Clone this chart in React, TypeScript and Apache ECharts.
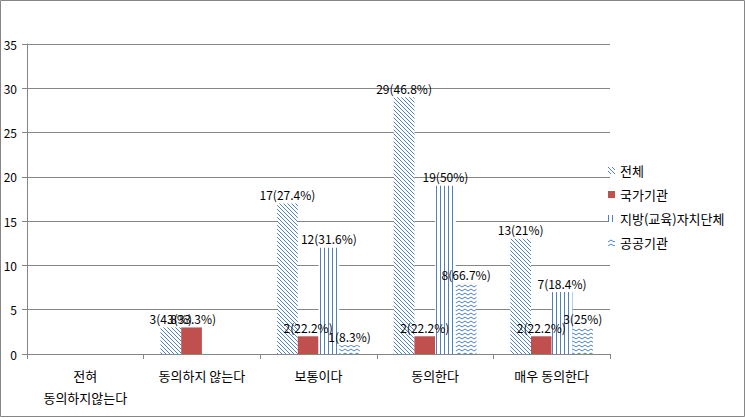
import React, { useEffect, useRef } from "react";
import * as echarts from "echarts";

const categories = ["전혀\n동의하지않는다", "동의하지 않는다", "보통이다", "동의한다", "매우 동의한다"];
const seriesNames = ["전체", "국가기관", "지방(교육)자치단체", "공공기관"];
const totalValues = [null, 3, 17, 29, 13];
const totalPct = [null, "4.8", "27.4", "46.8", "21"];
const nationalValues = [null, 3, 2, 2, 2];
const nationalPct = [null, "33.3", "22.2", "22.2", "22.2"];
const localValues = [null, null, 12, 19, 7];
const localPct = [null, null, "31.6", "50", "18.4"];
const publicValues = [null, null, 1, 8, 3];
const publicPct = [null, null, "8.3", "66.7", "25"];
const yTicks = { min: 0, max: 35, interval: 5 };

const BLUE = "#4F81BD";
const RED = "#C0504D";
const GRID = "#868686";
const FONT = "'Noto Sans CJK KR', 'Noto Sans', sans-serif";

function makePattern(kind: string) {
  const c = document.createElement("canvas");
  let w = 4, h = 4;
  if (kind === "wave") { w = 6; h = 4; }
  c.width = w; c.height = h;
  const ctx = c.getContext("2d")!;
  ctx.fillStyle = "#ffffff";
  ctx.fillRect(0, 0, w, h);
  ctx.strokeStyle = BLUE;
  ctx.fillStyle = BLUE;
  ctx.lineWidth = 1;
  if (kind === "diag") {
    for (let i = 0; i < 4; i++) {
      ctx.fillRect(i, i, 1, 1);
    }
  } else if (kind === "vert") {
    ctx.fillRect(1, 0, 1, h);
  } else if (kind === "wave") {
    ctx.beginPath();
    ctx.moveTo(0, 3);
    ctx.lineTo(3, 1);
    ctx.lineTo(6, 3);
    ctx.stroke();
  }
  return { image: c, repeat: "repeat", imageWidth: w, imageHeight: h };
}

export default function App() {
  const ref = useRef<HTMLDivElement>(null);
  useEffect(() => {
    if (!ref.current) return;
    const chart = echarts.init(ref.current, null, { renderer: "svg" });
    const pcts = [totalPct, nationalPct, localPct, publicPct];
    const vals = [totalValues, nationalValues, localValues, publicValues];
    const styles: any[] = [
      { color: makePattern("diag") },
      { color: RED },
      {
        color: "#ffffff",
        decal: {
          symbol: "rect",
          symbolSize: 1,
          symbolKeepAspect: false,
          dashArrayX: [1, 3],
          dashArrayY: [4, 0],
          rotation: 0,
          color: BLUE,
        },
      },
      { color: makePattern("wave") },
    ];
    const series = vals.map((v, si) => ({
      name: seriesNames[si],
      type: "bar",
      data: v,
      barGap: "0%",
      barCategoryGap: "29%",
      itemStyle: styles[si],
      label: {
        show: true,
        position: "top",
        distance: 3,
        color: "#000",
        fontSize: 12,
        fontFamily: FONT,
        formatter: (p: any) => `${p.value}(${pcts[si][p.dataIndex]}%)`,
      },
    }));
    chart.setOption({
      animation: false,
      backgroundColor: "#fff",
      grid: { left: 27, right: 135, top: 44, bottom: 64 },
      legend: {
        orient: "vertical",
        left: 603,
        top: 157,
        icon: "rect",
        itemWidth: 7,
        itemHeight: 7,
        itemGap: 7,
        textStyle: { fontSize: 13, fontFamily: FONT, color: "#000", lineHeight: 17 },
        data: seriesNames,
      },
      xAxis: {
        type: "category",
        data: categories,
        axisLine: { lineStyle: { color: GRID } },
        axisTick: { show: true, length: 5, lineStyle: { color: GRID } },
        axisLabel: { fontSize: 13, fontFamily: FONT, color: "#000", margin: 10, lineHeight: 22, interval: 0 },
      },
      yAxis: {
        type: "value",
        min: yTicks.min,
        max: yTicks.max,
        interval: yTicks.interval,
        axisLine: { show: true, lineStyle: { color: GRID } },
        axisTick: { show: true, length: 5, lineStyle: { color: GRID } },
        splitLine: { lineStyle: { color: GRID } },
        axisLabel: { fontSize: 12, fontFamily: FONT, color: "#000", margin: 10 },
      },
      graphic: [
        {
          type: "rect",
          shape: { x: 0.5, y: 0.5, width: 744, height: 416 },
          style: { fill: "none", stroke: GRID, lineWidth: 1 },
          silent: true,
        },
      ],
      series,
    } as any);
    return () => chart.dispose();
  }, []);
  return (
    <div
      ref={ref}
      style={{ position: "fixed", left: 0, top: 0, width: 745, height: 418 }}
    />
  );
}
